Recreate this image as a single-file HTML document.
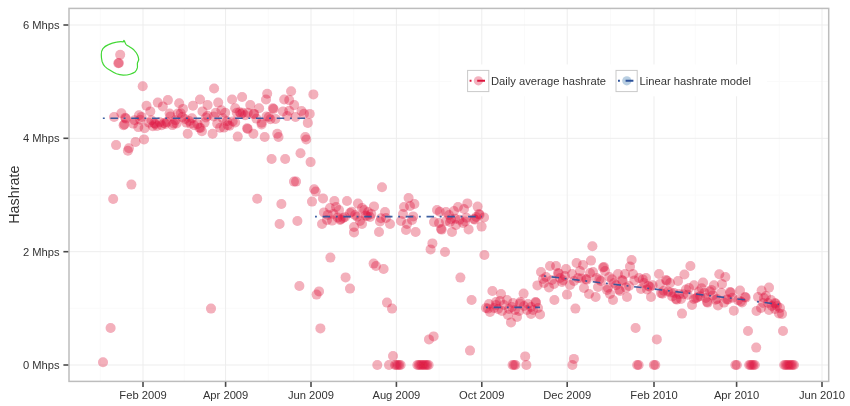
<!DOCTYPE html>
<html lang="en"><head><meta charset="utf-8"><title>Hashrate</title>
<style>html,body{margin:0;padding:0;background:#fff}svg{display:block}text{font-family:"Liberation Sans",Arial,Helvetica,sans-serif;fill:#333}</style></head><body>
<svg width="850" height="406" viewBox="0 0 850 406">
<defs><filter id="sf" x="0" y="0" width="850" height="406" filterUnits="userSpaceOnUse"><feGaussianBlur stdDeviation="0.4"/></filter></defs>
<rect width="850" height="406" fill="#fff"/>
<g stroke="#fafafa" stroke-width="1">
<line x1="184.3" y1="8.4" x2="184.3" y2="381.4"/>
<line x1="268.3" y1="8.4" x2="268.3" y2="381.4"/>
<line x1="353.7" y1="8.4" x2="353.7" y2="381.4"/>
<line x1="439.1" y1="8.4" x2="439.1" y2="381.4"/>
<line x1="524.5" y1="8.4" x2="524.5" y2="381.4"/>
<line x1="610.6" y1="8.4" x2="610.6" y2="381.4"/>
<line x1="695.3" y1="8.4" x2="695.3" y2="381.4"/>
<line x1="779.3" y1="8.4" x2="779.3" y2="381.4"/>
<line x1="100.2" y1="8.4" x2="100.2" y2="381.4"/>
<line x1="69.0" y1="308.3" x2="828.7" y2="308.3"/>
<line x1="69.0" y1="195.0" x2="828.7" y2="195.0"/>
<line x1="69.0" y1="81.6" x2="828.7" y2="81.6"/>
</g>
<g stroke="#ededed" stroke-width="1">
<line x1="143.0" y1="8.4" x2="143.0" y2="381.4"/>
<line x1="225.6" y1="8.4" x2="225.6" y2="381.4"/>
<line x1="311.0" y1="8.4" x2="311.0" y2="381.4"/>
<line x1="396.4" y1="8.4" x2="396.4" y2="381.4"/>
<line x1="481.8" y1="8.4" x2="481.8" y2="381.4"/>
<line x1="567.2" y1="8.4" x2="567.2" y2="381.4"/>
<line x1="654.0" y1="8.4" x2="654.0" y2="381.4"/>
<line x1="736.6" y1="8.4" x2="736.6" y2="381.4"/>
<line x1="822.0" y1="8.4" x2="822.0" y2="381.4"/>
<line x1="69.0" y1="365.0" x2="828.7" y2="365.0"/>
<line x1="69.0" y1="251.7" x2="828.7" y2="251.7"/>
<line x1="69.0" y1="138.3" x2="828.7" y2="138.3"/>
<line x1="69.0" y1="25.0" x2="828.7" y2="25.0"/>
</g>
<g fill="#dc143c" fill-opacity="0.35" filter="url(#sf)">
<circle cx="103.0" cy="362.2" r="5.0"/>
<circle cx="110.6" cy="328.0" r="5.0"/>
<circle cx="113.2" cy="199.0" r="5.0"/>
<circle cx="131.4" cy="184.6" r="5.0"/>
<circle cx="116.1" cy="145.1" r="5.0"/>
<circle cx="128.9" cy="148.2" r="5.0"/>
<circle cx="127.9" cy="150.8" r="5.0"/>
<circle cx="135.5" cy="142.0" r="5.0"/>
<circle cx="144.0" cy="139.4" r="5.0"/>
<circle cx="120.2" cy="54.7" r="5.0"/>
<circle cx="118.3" cy="63.3" r="5.0"/>
<circle cx="118.9" cy="63.0" r="5.0"/>
<circle cx="142.7" cy="86.3" r="5.0"/>
<circle cx="211.0" cy="308.6" r="5.0"/>
<circle cx="257.2" cy="198.8" r="5.0"/>
<circle cx="187.7" cy="133.8" r="5.0"/>
<circle cx="114.1" cy="117.0" r="5.0"/>
<circle cx="121.4" cy="113.3" r="5.0"/>
<circle cx="125.2" cy="117.7" r="5.0"/>
<circle cx="125.8" cy="118.6" r="5.0"/>
<circle cx="123.6" cy="125.2" r="5.0"/>
<circle cx="124.4" cy="124.4" r="5.0"/>
<circle cx="139.0" cy="115.2" r="5.0"/>
<circle cx="138.3" cy="127.1" r="5.0"/>
<circle cx="146.5" cy="105.7" r="5.0"/>
<circle cx="150.3" cy="111.4" r="5.0"/>
<circle cx="144.6" cy="128.3" r="5.0"/>
<circle cx="157.8" cy="102.6" r="5.0"/>
<circle cx="162.8" cy="106.4" r="5.0"/>
<circle cx="167.9" cy="100.1" r="5.0"/>
<circle cx="149.0" cy="122.7" r="5.0"/>
<circle cx="155.3" cy="124.0" r="5.0"/>
<circle cx="161.6" cy="125.2" r="5.0"/>
<circle cx="165.4" cy="124.0" r="5.0"/>
<circle cx="170.4" cy="116.4" r="5.0"/>
<circle cx="175.4" cy="120.2" r="5.0"/>
<circle cx="179.2" cy="103.2" r="5.0"/>
<circle cx="183.0" cy="108.9" r="5.0"/>
<circle cx="193.0" cy="105.7" r="5.0"/>
<circle cx="194.2" cy="125.2" r="5.0"/>
<circle cx="199.3" cy="127.7" r="5.0"/>
<circle cx="214.1" cy="88.5" r="5.0"/>
<circle cx="200.0" cy="99.5" r="5.0"/>
<circle cx="207.6" cy="105.1" r="5.0"/>
<circle cx="218.2" cy="102.6" r="5.0"/>
<circle cx="232.1" cy="99.5" r="5.0"/>
<circle cx="242.1" cy="97.0" r="5.0"/>
<circle cx="235.2" cy="108.3" r="5.0"/>
<circle cx="250.3" cy="105.1" r="5.0"/>
<circle cx="259.1" cy="108.3" r="5.0"/>
<circle cx="267.2" cy="93.8" r="5.0"/>
<circle cx="266.0" cy="99.5" r="5.0"/>
<circle cx="291.1" cy="91.3" r="5.0"/>
<circle cx="284.2" cy="99.5" r="5.0"/>
<circle cx="289.2" cy="100.1" r="5.0"/>
<circle cx="294.2" cy="105.1" r="5.0"/>
<circle cx="272.9" cy="108.3" r="5.0"/>
<circle cx="273.6" cy="109.0" r="5.0"/>
<circle cx="283.0" cy="111.4" r="5.0"/>
<circle cx="289.2" cy="110.8" r="5.0"/>
<circle cx="301.5" cy="111.0" r="5.0"/>
<circle cx="295.5" cy="117.0" r="5.0"/>
<circle cx="202.5" cy="111.4" r="5.0"/>
<circle cx="207.6" cy="115.8" r="5.0"/>
<circle cx="213.8" cy="116.4" r="5.0"/>
<circle cx="221.4" cy="110.2" r="5.0"/>
<circle cx="225.2" cy="112.7" r="5.0"/>
<circle cx="242.7" cy="112.7" r="5.0"/>
<circle cx="247.8" cy="112.7" r="5.0"/>
<circle cx="254.0" cy="113.9" r="5.0"/>
<circle cx="232.7" cy="121.5" r="5.0"/>
<circle cx="227.7" cy="125.2" r="5.0"/>
<circle cx="220.1" cy="127.7" r="5.0"/>
<circle cx="261.6" cy="122.7" r="5.0"/>
<circle cx="266.6" cy="116.4" r="5.0"/>
<circle cx="275.4" cy="118.9" r="5.0"/>
<circle cx="197.5" cy="124.0" r="5.0"/>
<circle cx="200.5" cy="128.0" r="5.0"/>
<circle cx="201.9" cy="131.3" r="5.0"/>
<circle cx="212.6" cy="133.8" r="5.0"/>
<circle cx="223.9" cy="127.6" r="5.0"/>
<circle cx="229.5" cy="125.7" r="5.0"/>
<circle cx="235.2" cy="122.5" r="5.0"/>
<circle cx="237.7" cy="136.6" r="5.0"/>
<circle cx="247.1" cy="128.2" r="5.0"/>
<circle cx="247.7" cy="128.9" r="5.0"/>
<circle cx="253.4" cy="133.8" r="5.0"/>
<circle cx="261.6" cy="124.4" r="5.0"/>
<circle cx="264.7" cy="137.0" r="5.0"/>
<circle cx="277.3" cy="133.8" r="5.0"/>
<circle cx="278.5" cy="137.0" r="5.0"/>
<circle cx="271.6" cy="159.0" r="5.0"/>
<circle cx="285.2" cy="159.0" r="5.0"/>
<circle cx="300.5" cy="153.3" r="5.0"/>
<circle cx="313.4" cy="94.4" r="5.0"/>
<circle cx="309.7" cy="113.9" r="5.0"/>
<circle cx="307.8" cy="122.9" r="5.0"/>
<circle cx="268.8" cy="117.0" r="5.0"/>
<circle cx="253.8" cy="113.9" r="5.0"/>
<circle cx="305.3" cy="137.0" r="5.0"/>
<circle cx="306.3" cy="139.5" r="5.0"/>
<circle cx="310.6" cy="162.1" r="5.0"/>
<circle cx="281.4" cy="204.0" r="5.0"/>
<circle cx="294.0" cy="181.6" r="5.0"/>
<circle cx="296.0" cy="181.6" r="5.0"/>
<circle cx="279.6" cy="224.0" r="5.0"/>
<circle cx="297.4" cy="221.0" r="5.0"/>
<circle cx="299.4" cy="286.0" r="5.0"/>
<circle cx="314.2" cy="189.3" r="5.0"/>
<circle cx="315.7" cy="191.6" r="5.0"/>
<circle cx="312.0" cy="201.6" r="5.0"/>
<circle cx="323.0" cy="198.4" r="5.0"/>
<circle cx="382.0" cy="187.2" r="5.0"/>
<circle cx="334.4" cy="201.0" r="5.0"/>
<circle cx="347.0" cy="201.0" r="5.0"/>
<circle cx="358.0" cy="203.6" r="5.0"/>
<circle cx="374.0" cy="206.4" r="5.0"/>
<circle cx="385.0" cy="212.0" r="5.0"/>
<circle cx="330.0" cy="208.0" r="5.0"/>
<circle cx="336.0" cy="207.0" r="5.0"/>
<circle cx="339.0" cy="210.0" r="5.0"/>
<circle cx="324.0" cy="212.4" r="5.0"/>
<circle cx="322.0" cy="224.0" r="5.0"/>
<circle cx="327.0" cy="220.0" r="5.0"/>
<circle cx="340.0" cy="220.0" r="5.0"/>
<circle cx="340.8" cy="219.2" r="5.0"/>
<circle cx="345.0" cy="217.0" r="5.0"/>
<circle cx="350.0" cy="213.0" r="5.0"/>
<circle cx="355.0" cy="215.0" r="5.0"/>
<circle cx="362.0" cy="208.0" r="5.0"/>
<circle cx="368.0" cy="212.0" r="5.0"/>
<circle cx="370.0" cy="217.0" r="5.0"/>
<circle cx="362.0" cy="224.0" r="5.0"/>
<circle cx="354.0" cy="227.0" r="5.0"/>
<circle cx="354.0" cy="232.4" r="5.0"/>
<circle cx="379.0" cy="232.0" r="5.0"/>
<circle cx="380.0" cy="221.5" r="5.0"/>
<circle cx="390.0" cy="224.0" r="5.0"/>
<circle cx="386.0" cy="218.0" r="5.0"/>
<circle cx="408.6" cy="198.0" r="5.0"/>
<circle cx="414.4" cy="204.0" r="5.0"/>
<circle cx="404.0" cy="207.0" r="5.0"/>
<circle cx="410.0" cy="206.0" r="5.0"/>
<circle cx="403.0" cy="214.0" r="5.0"/>
<circle cx="401.0" cy="221.0" r="5.0"/>
<circle cx="412.0" cy="220.0" r="5.0"/>
<circle cx="407.0" cy="224.0" r="5.0"/>
<circle cx="406.0" cy="230.0" r="5.0"/>
<circle cx="415.6" cy="232.0" r="5.0"/>
<circle cx="437.0" cy="210.0" r="5.0"/>
<circle cx="446.0" cy="212.0" r="5.0"/>
<circle cx="449.0" cy="215.0" r="5.0"/>
<circle cx="454.0" cy="211.0" r="5.0"/>
<circle cx="458.0" cy="207.0" r="5.0"/>
<circle cx="464.0" cy="209.0" r="5.0"/>
<circle cx="467.4" cy="203.4" r="5.0"/>
<circle cx="477.6" cy="206.6" r="5.0"/>
<circle cx="479.0" cy="214.0" r="5.0"/>
<circle cx="479.6" cy="214.8" r="5.0"/>
<circle cx="474.0" cy="219.0" r="5.0"/>
<circle cx="474.8" cy="219.6" r="5.0"/>
<circle cx="484.0" cy="217.4" r="5.0"/>
<circle cx="481.6" cy="226.6" r="5.0"/>
<circle cx="468.6" cy="229.4" r="5.0"/>
<circle cx="463.0" cy="223.0" r="5.0"/>
<circle cx="456.0" cy="225.0" r="5.0"/>
<circle cx="452.0" cy="232.0" r="5.0"/>
<circle cx="450.0" cy="222.0" r="5.0"/>
<circle cx="441.0" cy="229.0" r="5.0"/>
<circle cx="441.7" cy="229.6" r="5.0"/>
<circle cx="439.0" cy="223.0" r="5.0"/>
<circle cx="434.0" cy="222.0" r="5.0"/>
<circle cx="446.0" cy="221.0" r="5.0"/>
<circle cx="319.0" cy="291.4" r="5.0"/>
<circle cx="316.6" cy="294.6" r="5.0"/>
<circle cx="330.4" cy="257.6" r="5.0"/>
<circle cx="345.6" cy="277.4" r="5.0"/>
<circle cx="350.0" cy="288.6" r="5.0"/>
<circle cx="373.6" cy="263.6" r="5.0"/>
<circle cx="376.0" cy="266.0" r="5.0"/>
<circle cx="383.6" cy="269.0" r="5.0"/>
<circle cx="387.0" cy="302.6" r="5.0"/>
<circle cx="392.0" cy="308.6" r="5.0"/>
<circle cx="432.4" cy="243.4" r="5.0"/>
<circle cx="430.6" cy="249.4" r="5.0"/>
<circle cx="445.0" cy="252.0" r="5.0"/>
<circle cx="460.4" cy="277.6" r="5.0"/>
<circle cx="320.4" cy="328.4" r="5.0"/>
<circle cx="393.0" cy="356.0" r="5.0"/>
<circle cx="433.6" cy="336.4" r="5.0"/>
<circle cx="429.0" cy="339.4" r="5.0"/>
<circle cx="470.0" cy="350.6" r="5.0"/>
<circle cx="471.6" cy="300.0" r="5.0"/>
<circle cx="484.4" cy="255.0" r="5.0"/>
<circle cx="377.3" cy="365.0" r="5.0"/>
<circle cx="389.0" cy="365.0" r="5.0"/>
<circle cx="395.0" cy="365.0" r="5.0"/>
<circle cx="396.4" cy="365.0" r="5.0"/>
<circle cx="397.8" cy="365.0" r="5.0"/>
<circle cx="399.2" cy="365.0" r="5.0"/>
<circle cx="400.6" cy="365.0" r="5.0"/>
<circle cx="417.4" cy="365.0" r="5.0"/>
<circle cx="418.8" cy="365.0" r="5.0"/>
<circle cx="420.2" cy="365.0" r="5.0"/>
<circle cx="421.6" cy="365.0" r="5.0"/>
<circle cx="423.0" cy="365.0" r="5.0"/>
<circle cx="424.4" cy="365.0" r="5.0"/>
<circle cx="425.8" cy="365.0" r="5.0"/>
<circle cx="427.2" cy="365.0" r="5.0"/>
<circle cx="428.6" cy="365.0" r="5.0"/>
<circle cx="492.4" cy="291.0" r="5.0"/>
<circle cx="501.0" cy="294.0" r="5.0"/>
<circle cx="523.6" cy="293.6" r="5.0"/>
<circle cx="520.4" cy="302.0" r="5.0"/>
<circle cx="535.6" cy="302.0" r="5.0"/>
<circle cx="507.0" cy="300.0" r="5.0"/>
<circle cx="496.0" cy="302.0" r="5.0"/>
<circle cx="489.0" cy="304.0" r="5.0"/>
<circle cx="486.0" cy="308.0" r="5.0"/>
<circle cx="488.0" cy="308.6" r="5.0"/>
<circle cx="490.0" cy="312.0" r="5.0"/>
<circle cx="496.0" cy="305.0" r="5.0"/>
<circle cx="504.0" cy="305.0" r="5.0"/>
<circle cx="502.0" cy="311.0" r="5.0"/>
<circle cx="520.0" cy="303.5" r="5.0"/>
<circle cx="519.0" cy="311.0" r="5.0"/>
<circle cx="527.0" cy="310.0" r="5.0"/>
<circle cx="531.0" cy="307.0" r="5.0"/>
<circle cx="536.0" cy="302.6" r="5.0"/>
<circle cx="511.0" cy="322.4" r="5.0"/>
<circle cx="517.0" cy="317.0" r="5.0"/>
<circle cx="508.0" cy="315.0" r="5.0"/>
<circle cx="540.0" cy="314.4" r="5.0"/>
<circle cx="531.0" cy="314.0" r="5.0"/>
<circle cx="498.0" cy="309.0" r="5.0"/>
<circle cx="494.0" cy="308.0" r="5.0"/>
<circle cx="512.0" cy="307.0" r="5.0"/>
<circle cx="515.0" cy="310.0" r="5.0"/>
<circle cx="524.0" cy="306.0" r="5.0"/>
<circle cx="533.0" cy="310.0" r="5.0"/>
<circle cx="500.0" cy="301.0" r="5.0"/>
<circle cx="509.0" cy="309.0" r="5.0"/>
<circle cx="513.0" cy="303.0" r="5.0"/>
<circle cx="538.0" cy="308.0" r="5.0"/>
<circle cx="528.0" cy="304.0" r="5.0"/>
<circle cx="512.6" cy="365.0" r="5.0"/>
<circle cx="514.0" cy="365.0" r="5.0"/>
<circle cx="515.4" cy="365.0" r="5.0"/>
<circle cx="526.4" cy="365.0" r="5.0"/>
<circle cx="525.2" cy="356.4" r="5.0"/>
<circle cx="573.9" cy="358.9" r="5.0"/>
<circle cx="572.4" cy="365.0" r="5.0"/>
<circle cx="554.4" cy="300.0" r="5.0"/>
<circle cx="567.0" cy="294.6" r="5.0"/>
<circle cx="575.4" cy="308.6" r="5.0"/>
<circle cx="592.4" cy="246.2" r="5.0"/>
<circle cx="541.0" cy="272.0" r="5.0"/>
<circle cx="550.0" cy="266.0" r="5.0"/>
<circle cx="556.0" cy="266.0" r="5.0"/>
<circle cx="566.0" cy="269.0" r="5.0"/>
<circle cx="558.0" cy="273.0" r="5.0"/>
<circle cx="537.4" cy="285.4" r="5.0"/>
<circle cx="544.0" cy="283.0" r="5.0"/>
<circle cx="549.0" cy="287.4" r="5.0"/>
<circle cx="552.0" cy="280.0" r="5.0"/>
<circle cx="562.0" cy="282.0" r="5.0"/>
<circle cx="570.0" cy="285.0" r="5.0"/>
<circle cx="576.6" cy="263.0" r="5.0"/>
<circle cx="583.0" cy="265.0" r="5.0"/>
<circle cx="591.0" cy="260.6" r="5.0"/>
<circle cx="590.0" cy="273.0" r="5.0"/>
<circle cx="578.0" cy="278.0" r="5.0"/>
<circle cx="584.0" cy="288.0" r="5.0"/>
<circle cx="589.0" cy="294.0" r="5.0"/>
<circle cx="595.6" cy="297.0" r="5.0"/>
<circle cx="598.0" cy="287.0" r="5.0"/>
<circle cx="604.0" cy="267.0" r="5.0"/>
<circle cx="546.0" cy="277.0" r="5.0"/>
<circle cx="554.0" cy="284.0" r="5.0"/>
<circle cx="560.0" cy="278.0" r="5.0"/>
<circle cx="565.0" cy="276.0" r="5.0"/>
<circle cx="572.0" cy="274.0" r="5.0"/>
<circle cx="580.0" cy="271.0" r="5.0"/>
<circle cx="586.0" cy="279.0" r="5.0"/>
<circle cx="574.0" cy="281.0" r="5.0"/>
<circle cx="543.0" cy="279.0" r="5.0"/>
<circle cx="631.6" cy="260.0" r="5.0"/>
<circle cx="630.0" cy="266.6" r="5.0"/>
<circle cx="603.0" cy="267.5" r="5.0"/>
<circle cx="605.0" cy="271.0" r="5.0"/>
<circle cx="593.0" cy="272.0" r="5.0"/>
<circle cx="618.0" cy="274.0" r="5.0"/>
<circle cx="625.0" cy="274.0" r="5.0"/>
<circle cx="633.0" cy="274.0" r="5.0"/>
<circle cx="622.0" cy="280.0" r="5.0"/>
<circle cx="622.7" cy="280.8" r="5.0"/>
<circle cx="614.0" cy="283.0" r="5.0"/>
<circle cx="607.0" cy="290.0" r="5.0"/>
<circle cx="610.0" cy="294.0" r="5.0"/>
<circle cx="613.0" cy="300.0" r="5.0"/>
<circle cx="620.0" cy="291.0" r="5.0"/>
<circle cx="627.0" cy="297.0" r="5.0"/>
<circle cx="629.0" cy="286.0" r="5.0"/>
<circle cx="639.0" cy="278.0" r="5.0"/>
<circle cx="646.0" cy="278.0" r="5.0"/>
<circle cx="644.0" cy="283.0" r="5.0"/>
<circle cx="641.0" cy="289.0" r="5.0"/>
<circle cx="650.0" cy="287.0" r="5.0"/>
<circle cx="651.0" cy="297.0" r="5.0"/>
<circle cx="659.0" cy="274.0" r="5.0"/>
<circle cx="666.0" cy="280.0" r="5.0"/>
<circle cx="666.8" cy="280.7" r="5.0"/>
<circle cx="660.0" cy="284.0" r="5.0"/>
<circle cx="670.0" cy="283.0" r="5.0"/>
<circle cx="678.0" cy="281.0" r="5.0"/>
<circle cx="684.4" cy="274.5" r="5.0"/>
<circle cx="690.4" cy="266.0" r="5.0"/>
<circle cx="674.0" cy="293.0" r="5.0"/>
<circle cx="676.0" cy="299.0" r="5.0"/>
<circle cx="676.8" cy="299.6" r="5.0"/>
<circle cx="681.0" cy="299.0" r="5.0"/>
<circle cx="686.0" cy="289.5" r="5.0"/>
<circle cx="682.0" cy="313.6" r="5.0"/>
<circle cx="694.0" cy="285.3" r="5.0"/>
<circle cx="703.0" cy="282.6" r="5.0"/>
<circle cx="699.0" cy="291.5" r="5.0"/>
<circle cx="694.0" cy="299.0" r="5.0"/>
<circle cx="692.0" cy="305.0" r="5.0"/>
<circle cx="707.0" cy="302.0" r="5.0"/>
<circle cx="707.7" cy="302.6" r="5.0"/>
<circle cx="710.0" cy="291.5" r="5.0"/>
<circle cx="714.0" cy="285.3" r="5.0"/>
<circle cx="719.3" cy="274.2" r="5.0"/>
<circle cx="725.3" cy="277.0" r="5.0"/>
<circle cx="722.0" cy="284.0" r="5.0"/>
<circle cx="730.0" cy="292.0" r="5.0"/>
<circle cx="730.7" cy="292.6" r="5.0"/>
<circle cx="717.0" cy="299.0" r="5.0"/>
<circle cx="718.0" cy="305.5" r="5.0"/>
<circle cx="728.0" cy="299.5" r="5.0"/>
<circle cx="740.0" cy="290.5" r="5.0"/>
<circle cx="745.0" cy="297.0" r="5.0"/>
<circle cx="745.7" cy="297.6" r="5.0"/>
<circle cx="742.0" cy="302.5" r="5.0"/>
<circle cx="733.8" cy="310.8" r="5.0"/>
<circle cx="758.0" cy="297.0" r="5.0"/>
<circle cx="756.5" cy="311.0" r="5.0"/>
<circle cx="769.0" cy="287.6" r="5.0"/>
<circle cx="761.6" cy="290.6" r="5.0"/>
<circle cx="764.0" cy="298.0" r="5.0"/>
<circle cx="761.0" cy="308.0" r="5.0"/>
<circle cx="768.0" cy="303.0" r="5.0"/>
<circle cx="769.0" cy="310.0" r="5.0"/>
<circle cx="775.0" cy="303.0" r="5.0"/>
<circle cx="775.7" cy="303.7" r="5.0"/>
<circle cx="775.0" cy="309.0" r="5.0"/>
<circle cx="780.0" cy="308.0" r="5.0"/>
<circle cx="782.0" cy="314.0" r="5.0"/>
<circle cx="779.0" cy="313.5" r="5.0"/>
<circle cx="766.0" cy="296.0" r="5.0"/>
<circle cx="771.0" cy="300.0" r="5.0"/>
<circle cx="772.0" cy="306.0" r="5.0"/>
<circle cx="777.0" cy="306.0" r="5.0"/>
<circle cx="763.0" cy="303.0" r="5.0"/>
<circle cx="635.6" cy="328.0" r="5.0"/>
<circle cx="656.8" cy="339.4" r="5.0"/>
<circle cx="748.0" cy="331.0" r="5.0"/>
<circle cx="783.0" cy="331.0" r="5.0"/>
<circle cx="756.2" cy="347.6" r="5.0"/>
<circle cx="637.2" cy="365.0" r="5.0"/>
<circle cx="638.6" cy="365.0" r="5.0"/>
<circle cx="653.9" cy="365.0" r="5.0"/>
<circle cx="655.3" cy="365.0" r="5.0"/>
<circle cx="735.4" cy="365.0" r="5.0"/>
<circle cx="736.8" cy="365.0" r="5.0"/>
<circle cx="749.2" cy="365.0" r="5.0"/>
<circle cx="750.6" cy="365.0" r="5.0"/>
<circle cx="752.0" cy="365.0" r="5.0"/>
<circle cx="753.4" cy="365.0" r="5.0"/>
<circle cx="754.8" cy="365.0" r="5.0"/>
<circle cx="784.2" cy="365.0" r="5.0"/>
<circle cx="785.6" cy="365.0" r="5.0"/>
<circle cx="787.0" cy="365.0" r="5.0"/>
<circle cx="788.4" cy="365.0" r="5.0"/>
<circle cx="789.8" cy="365.0" r="5.0"/>
<circle cx="791.2" cy="365.0" r="5.0"/>
<circle cx="792.6" cy="365.0" r="5.0"/>
<circle cx="794.0" cy="365.0" r="5.0"/>
<circle cx="133.2" cy="123.6" r="5.0"/>
<circle cx="134.6" cy="120.2" r="5.0"/>
<circle cx="140.2" cy="119.8" r="5.0"/>
<circle cx="141.6" cy="116.9" r="5.0"/>
<circle cx="151.4" cy="120.2" r="5.0"/>
<circle cx="152.8" cy="126.3" r="5.0"/>
<circle cx="154.2" cy="123.2" r="5.0"/>
<circle cx="157.0" cy="126.0" r="5.0"/>
<circle cx="159.8" cy="122.3" r="5.0"/>
<circle cx="164.0" cy="123.0" r="5.0"/>
<circle cx="166.8" cy="122.1" r="5.0"/>
<circle cx="169.6" cy="113.5" r="5.0"/>
<circle cx="172.4" cy="125.1" r="5.0"/>
<circle cx="173.8" cy="123.5" r="5.0"/>
<circle cx="176.6" cy="123.5" r="5.0"/>
<circle cx="178.0" cy="113.4" r="5.0"/>
<circle cx="180.8" cy="113.2" r="5.0"/>
<circle cx="182.2" cy="117.1" r="5.0"/>
<circle cx="185.0" cy="119.0" r="5.0"/>
<circle cx="186.4" cy="122.6" r="5.0"/>
<circle cx="189.2" cy="121.0" r="5.0"/>
<circle cx="190.6" cy="123.6" r="5.0"/>
<circle cx="192.0" cy="118.2" r="5.0"/>
<circle cx="204.6" cy="122.6" r="5.0"/>
<circle cx="206.0" cy="117.5" r="5.0"/>
<circle cx="215.8" cy="112.7" r="5.0"/>
<circle cx="217.2" cy="123.6" r="5.0"/>
<circle cx="222.8" cy="118.3" r="5.0"/>
<circle cx="227.0" cy="121.2" r="5.0"/>
<circle cx="236.8" cy="112.8" r="5.0"/>
<circle cx="239.6" cy="112.3" r="5.0"/>
<circle cx="241.0" cy="114.1" r="5.0"/>
<circle cx="245.2" cy="115.2" r="5.0"/>
<circle cx="256.4" cy="118.6" r="5.0"/>
<circle cx="270.4" cy="119.3" r="5.0"/>
<circle cx="287.2" cy="116.1" r="5.0"/>
<circle cx="304.0" cy="113.8" r="5.0"/>
<circle cx="327.8" cy="214.9" r="5.0"/>
<circle cx="332.0" cy="220.6" r="5.0"/>
<circle cx="333.4" cy="213.9" r="5.0"/>
<circle cx="337.6" cy="217.4" r="5.0"/>
<circle cx="343.2" cy="218.0" r="5.0"/>
<circle cx="351.6" cy="211.7" r="5.0"/>
<circle cx="357.2" cy="216.8" r="5.0"/>
<circle cx="360.0" cy="220.9" r="5.0"/>
<circle cx="364.2" cy="210.0" r="5.0"/>
<circle cx="365.6" cy="215.5" r="5.0"/>
<circle cx="367.0" cy="216.2" r="5.0"/>
<circle cx="371.2" cy="213.9" r="5.0"/>
<circle cx="381.0" cy="218.2" r="5.0"/>
<circle cx="413.2" cy="216.4" r="5.0"/>
<circle cx="439.8" cy="211.8" r="5.0"/>
<circle cx="451.0" cy="219.3" r="5.0"/>
<circle cx="455.2" cy="218.8" r="5.0"/>
<circle cx="459.4" cy="219.7" r="5.0"/>
<circle cx="465.0" cy="221.4" r="5.0"/>
<circle cx="466.4" cy="217.8" r="5.0"/>
<circle cx="476.2" cy="217.0" r="5.0"/>
<circle cx="558.8" cy="273.5" r="5.0"/>
<circle cx="563.0" cy="280.3" r="5.0"/>
<circle cx="581.2" cy="278.4" r="5.0"/>
<circle cx="586.8" cy="279.6" r="5.0"/>
<circle cx="596.6" cy="278.1" r="5.0"/>
<circle cx="599.4" cy="279.4" r="5.0"/>
<circle cx="600.8" cy="281.0" r="5.0"/>
<circle cx="607.8" cy="287.8" r="5.0"/>
<circle cx="609.2" cy="277.0" r="5.0"/>
<circle cx="612.0" cy="279.2" r="5.0"/>
<circle cx="616.2" cy="285.3" r="5.0"/>
<circle cx="619.0" cy="289.7" r="5.0"/>
<circle cx="626.0" cy="287.6" r="5.0"/>
<circle cx="634.4" cy="280.4" r="5.0"/>
<circle cx="642.8" cy="279.4" r="5.0"/>
<circle cx="647.0" cy="289.4" r="5.0"/>
<circle cx="648.4" cy="285.9" r="5.0"/>
<circle cx="652.6" cy="285.2" r="5.0"/>
<circle cx="661.0" cy="293.1" r="5.0"/>
<circle cx="662.4" cy="293.7" r="5.0"/>
<circle cx="663.8" cy="290.7" r="5.0"/>
<circle cx="668.0" cy="291.5" r="5.0"/>
<circle cx="670.8" cy="292.5" r="5.0"/>
<circle cx="672.2" cy="296.5" r="5.0"/>
<circle cx="679.2" cy="294.1" r="5.0"/>
<circle cx="683.4" cy="294.2" r="5.0"/>
<circle cx="687.6" cy="294.8" r="5.0"/>
<circle cx="689.0" cy="288.0" r="5.0"/>
<circle cx="696.0" cy="298.2" r="5.0"/>
<circle cx="697.4" cy="297.3" r="5.0"/>
<circle cx="700.2" cy="296.3" r="5.0"/>
<circle cx="701.6" cy="288.2" r="5.0"/>
<circle cx="704.4" cy="292.9" r="5.0"/>
<circle cx="705.8" cy="298.0" r="5.0"/>
<circle cx="711.4" cy="289.9" r="5.0"/>
<circle cx="712.8" cy="295.4" r="5.0"/>
<circle cx="715.6" cy="299.7" r="5.0"/>
<circle cx="721.2" cy="292.7" r="5.0"/>
<circle cx="724.0" cy="302.6" r="5.0"/>
<circle cx="726.8" cy="299.5" r="5.0"/>
<circle cx="732.4" cy="297.8" r="5.0"/>
<circle cx="738.0" cy="300.1" r="5.0"/>
<circle cx="740.8" cy="301.5" r="5.0"/>
</g>
<g stroke="#2c529a" stroke-width="1.6" stroke-opacity="0.92" stroke-dasharray="1.89 5.67 7.56 5.67" fill="none">
<path d="M102.85 118.2H306"/>
<path d="M315 216.6H482"/>
<path d="M486 307.4H540"/>
<path d="M544 276L750.5 300.5"/>
<path d="M757 301.6L779 304.4"/>
</g>
<path d="M123.9 40.5L123.3 41.8C121 41.5 119 41.6 116.5 42.1C113.5 42.6 111 43.4 108.5 44.6C106 45.7 104.2 47 102.9 48.6C101.7 50.3 101.2 52.4 101.3 54.7C101.3 57 101.5 59.2 102.1 61.5C102.7 63.4 103.5 65 104.8 66.4C106.2 67.8 107.8 69 109.7 70.1C111.8 71.5 114 72.8 116.5 73.8C118.7 74.6 121 75 123.3 75.1C125.6 75.1 127.9 74.9 130.1 74.2C132 73.6 133.6 73 135 72C136.3 70.7 137.1 69.3 137.4 67.7C137.6 66.2 137.3 64.7 137.4 63.3C137.6 62 138.6 60.9 138.7 59.6C138.7 57.9 138.2 56.3 137.4 54.7C136.5 52.9 135.3 51.3 133.8 49.8C132.5 48.6 131 47.6 129.4 46.7C128.3 46.1 127.2 45.6 126.4 44.9C125.7 44.2 125.4 43.4 125.1 42.6C124.8 41.8 124.4 41.1 123.9 40.5" fill="none" stroke="#43d836" stroke-width="1.2" stroke-linejoin="round" stroke-linecap="round"/>
<rect x="69.0" y="8.4" width="759.7" height="373.0" fill="none" stroke="#bdbdbd" stroke-width="1.5"/>
<g stroke="#4a4a4a" stroke-width="1.6">
<line x1="143.0" y1="381.9" x2="143.0" y2="386.9"/>
<line x1="225.6" y1="381.9" x2="225.6" y2="386.9"/>
<line x1="311.0" y1="381.9" x2="311.0" y2="386.9"/>
<line x1="396.4" y1="381.9" x2="396.4" y2="386.9"/>
<line x1="481.8" y1="381.9" x2="481.8" y2="386.9"/>
<line x1="567.2" y1="381.9" x2="567.2" y2="386.9"/>
<line x1="654.0" y1="381.9" x2="654.0" y2="386.9"/>
<line x1="736.6" y1="381.9" x2="736.6" y2="386.9"/>
<line x1="822.0" y1="381.9" x2="822.0" y2="386.9"/>
<line x1="63.4" y1="365.0" x2="68.3" y2="365.0"/>
<line x1="63.4" y1="251.7" x2="68.3" y2="251.7"/>
<line x1="63.4" y1="138.3" x2="68.3" y2="138.3"/>
<line x1="63.4" y1="25.0" x2="68.3" y2="25.0"/>
</g>
<g font-size="11.2">
<text x="143.0" y="399" text-anchor="middle">Feb 2009</text>
<text x="225.6" y="399" text-anchor="middle">Apr 2009</text>
<text x="311.0" y="399" text-anchor="middle">Jun 2009</text>
<text x="396.4" y="399" text-anchor="middle">Aug 2009</text>
<text x="481.8" y="399" text-anchor="middle">Oct 2009</text>
<text x="567.2" y="399" text-anchor="middle">Dec 2009</text>
<text x="654.0" y="399" text-anchor="middle">Feb 2010</text>
<text x="736.6" y="399" text-anchor="middle">Apr 2010</text>
<text x="822.0" y="399" text-anchor="middle">Jun 2010</text>
<text x="59.6" y="369.0" text-anchor="end">0 Mhps</text>
<text x="59.6" y="255.7" text-anchor="end">2 Mhps</text>
<text x="59.6" y="142.3" text-anchor="end">4 Mhps</text>
<text x="59.6" y="29.0" text-anchor="end">6 Mhps</text>
</g>
<text font-size="14.4" text-anchor="middle" transform="translate(19.2 194.6) rotate(-90)">Hashrate</text>
<g>
<rect x="451" y="64.5" width="316" height="31.8" fill="#fff"/>
<rect x="467.6" y="70.4" width="21.2" height="21.2" fill="#fff" stroke="#c9c9c9" stroke-width="1"/>
<circle cx="478.4" cy="80.8" r="4.6" fill="#dc143c" fill-opacity="0.33"/>
<path d="M469.6 80.8h1.9M477.2 80.8h7.8" stroke="#dc143c" stroke-width="1.9"/>
<text x="491" y="85.3" font-size="11.2">Daily average hashrate</text>
<rect x="616" y="70.4" width="21.2" height="21.2" fill="#fff" stroke="#c9c9c9" stroke-width="1"/>
<circle cx="626.8" cy="80.8" r="4.6" fill="#4682b4" fill-opacity="0.38"/>
<path d="M618 80.8h1.9M625.6 80.8h7.8" stroke="#2c529a" stroke-width="1.9"/>
<text x="639.6" y="85.3" font-size="11.2">Linear hashrate model</text>
</g>
</svg></body></html>
